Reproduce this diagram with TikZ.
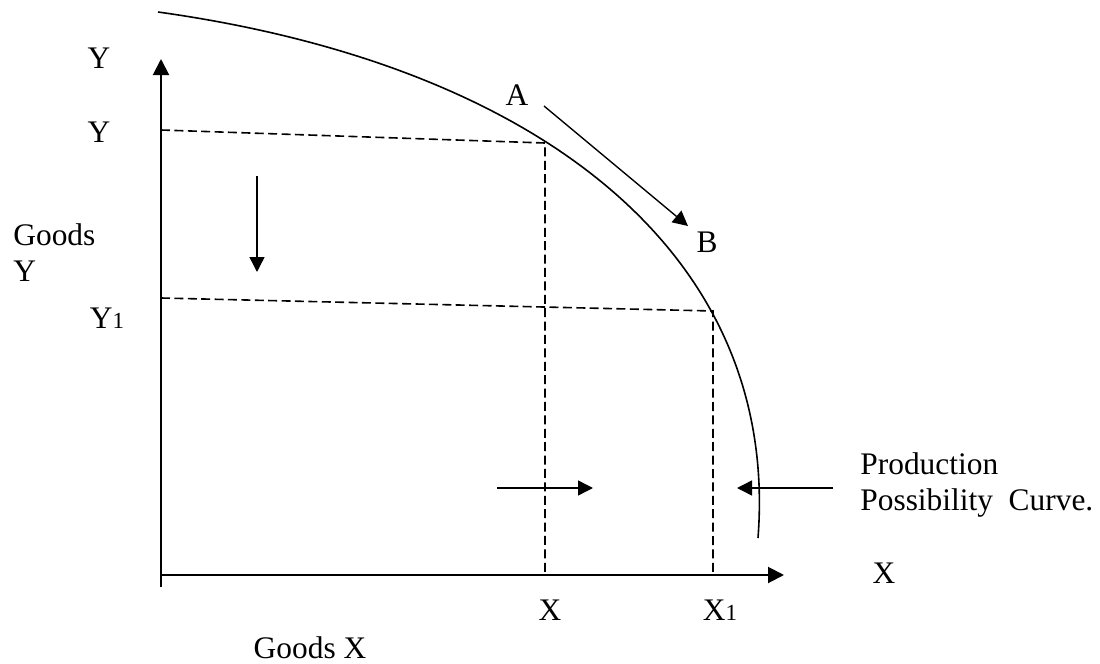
\documentclass[tikz,border=0pt]{standalone}
\usepackage{fontspec}
\setmainfont{Liberation Serif}
\usetikzlibrary{arrows.meta}

\tikzset{
    axis/.style={line width=1pt, -{Triangle[length=8pt,width=8pt]}},
    moveline/.style={line width=0.7pt, -{Triangle[length=7.5pt,width=7.5pt]}},
    guide/.style={line width=0.8pt, dash pattern=on 4.5pt off 2.2pt},
    lbl/.style={inner sep=0pt, font=\fontsize{15.7}{18}\selectfont},
}

\begin{document}
\begin{tikzpicture}[x=0.5pt, y=-0.5pt]
    \def\smallone{{\fontsize{11.5}{12}\selectfont 1}}

    \useasboundingbox (0,0) rectangle (1100,664);

    % Axes
    \coordinate (origin) at (161,575);
    \coordinate (ybase) at (161,587);
    \coordinate (ytip) at (161,59);
    \coordinate (xtip) at (784,575);
    \draw[axis] (ybase) -- (ytip);
    \draw[axis] (origin) -- (xtip);

    % Production possibility curve
    \coordinate (ppctop) at (158,12);
    \coordinate (ppcbottom) at (758,538);
    \draw[line width=0.8pt] (ppctop) .. controls (538,65) and (780,253) .. (ppcbottom);

    % Dashed guides to the curve
    \coordinate (ya) at (161,130);
    \coordinate (pa) at (545,143);
    \coordinate (xa) at (545,575);
    \coordinate (yb) at (161,298);
    \coordinate (pb) at (713,311);
    \coordinate (xb) at (713,575);
    \draw[guide] (ya) -- (pa) -- (xa);
    \draw[guide] (yb) -- (pb) -- (xb);

    % Labels
    \node[lbl] (ytop) at (99,58) {Y};
    \node[lbl] (ylab) at (99,132) {Y};
    \node[lbl] (y1lab) at (107,318) {Y\smallone};
    \node[lbl, align=left, anchor=north west] (goodsy) at (13,223) {Goods\\Y};
    \node[lbl] (pointa) at (517,95) {A};
    \node[lbl] (pointb) at (707,242) {B};
    \node[lbl] (xright) at (884,573) {X};
    \node[lbl] (xlab) at (550,610) {X};
    \node[lbl] (x1lab) at (720,610) {X\smallone};
    \node[lbl] (goodsx) at (310,648) {Goods X};
    \node[lbl, align=left, anchor=north west] (ppc) at (860,452) {Production\\Possibility\ \ Curve.};

    % Movement arrows
    \coordinate (abstart) at (544,106);
    \coordinate (abend) at (688,226);
    \coordinate (downstart) at (257,176);
    \coordinate (downend) at (257,272);
    \coordinate (rightstart) at (497,488);
    \coordinate (rightend) at (593,488);
    \coordinate (ppcstart) at (833,488);
    \coordinate (ppcend) at (737,488);
    \draw[moveline] (abstart) -- (abend);
    \draw[moveline] (downstart) -- (downend);
    \draw[moveline] (rightstart) -- (rightend);
    \draw[moveline] (ppcstart) -- (ppcend);
\end{tikzpicture}
\end{document}
